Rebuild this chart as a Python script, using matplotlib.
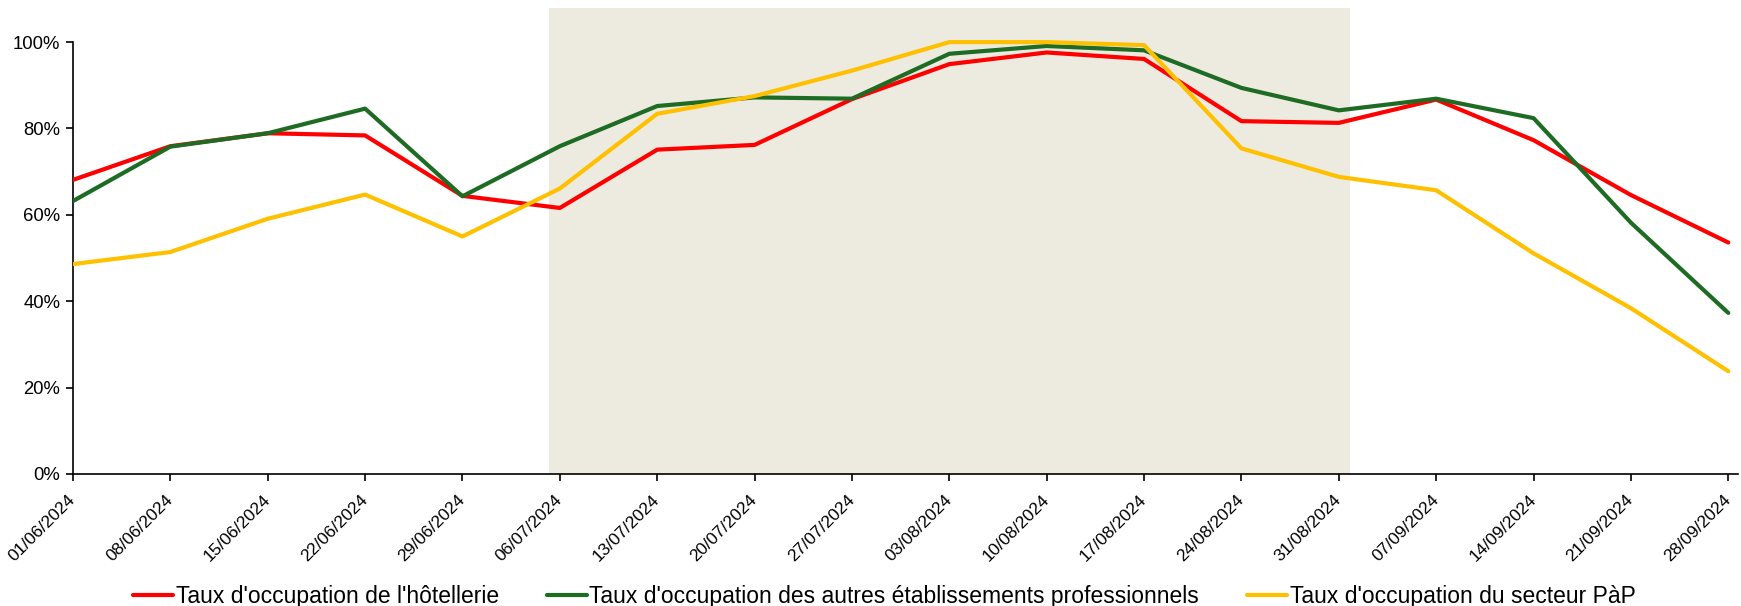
import matplotlib
matplotlib.use("Agg")
import matplotlib.pyplot as plt
from matplotlib.ticker import PercentFormatter

dates = ["01/06/2024", "08/06/2024", "15/06/2024", "22/06/2024", "29/06/2024",
         "06/07/2024", "13/07/2024", "20/07/2024", "27/07/2024", "03/08/2024",
         "10/08/2024", "17/08/2024", "24/08/2024", "31/08/2024", "07/09/2024",
         "14/09/2024", "21/09/2024", "28/09/2024"]

hotellerie = [68.1, 75.9, 78.9, 78.4, 64.4, 61.6, 75.1, 76.2, 86.8, 94.9,
              97.6, 96.1, 81.7, 81.3, 86.7, 77.3, 64.6, 53.6]
autres = [63.2, 75.8, 78.9, 84.6, 64.3, 75.9, 85.2, 87.2, 86.9, 97.3,
          99.1, 98.1, 89.4, 84.2, 86.9, 82.4, 58.2, 37.3]
pap = [48.6, 51.4, 59.1, 64.7, 55.0, 66.1, 83.4, 87.5, 93.4, 100.0,
       100.0, 99.3, 75.4, 68.8, 65.7, 51.1, 38.4, 23.8]

labels = ["Taux d'occupation de l'hôtellerie",
          "Taux d'occupation des autres établissements professionnels",
          "Taux d'occupation du secteur PàP"]
colors = ["#FF0000", "#1E6B24", "#FFC000"]

shade_start, shade_end = 4.89, 13.12

plt.rcParams['font.family'] = ['Liberation Sans', 'DejaVu Sans']

fig = plt.figure(figsize=(17.41, 6.06), dpi=100)
ax = fig.add_axes([73 / 1741, 1 - 474 / 606, (1738 - 73) / 1741, (474 - 8) / 606])

x = list(range(len(dates)))
ax.axvspan(shade_start, shade_end, ymin=0, ymax=1, color="#EDEBE0", lw=0, zorder=0)
for series, lab, col in zip([hotellerie, autres, pap], labels, colors):
    ax.plot(x, series, color=col, lw=3, label=lab, zorder=3, solid_capstyle='round')

ax.set_xlim(0, 17.1)
ax.set_ylim(0, 107.9)
ax.set_yticks([0, 20, 40, 60, 80, 100])
ax.yaxis.set_major_formatter(PercentFormatter(decimals=0))
ax.set_xticks(x)
ax.set_xticklabels(dates, rotation=45, ha='right', va='center', rotation_mode='anchor')

for s in ['top', 'right']:
    ax.spines[s].set_visible(False)
ax.spines['left'].set_bounds(0, 100)
for s in ['left', 'bottom']:
    ax.spines[s].set_linewidth(1.2)
    ax.spines[s].set_color('black')
ax.tick_params(axis='both', direction='out', length=5, width=1.2, colors='black')
ax.tick_params(axis='x', pad=12, labelsize=12.5)
ax.tick_params(axis='y', pad=4, labelsize=13.3)

leg = fig.legend(loc='center', bbox_to_anchor=(0.508, 1 - 597 / 606), ncol=3, frameon=False,
                 fontsize=16.5, handlelength=1.75, handletextpad=0.1, columnspacing=2.1)

fig.savefig("out.png", dpi=100)
